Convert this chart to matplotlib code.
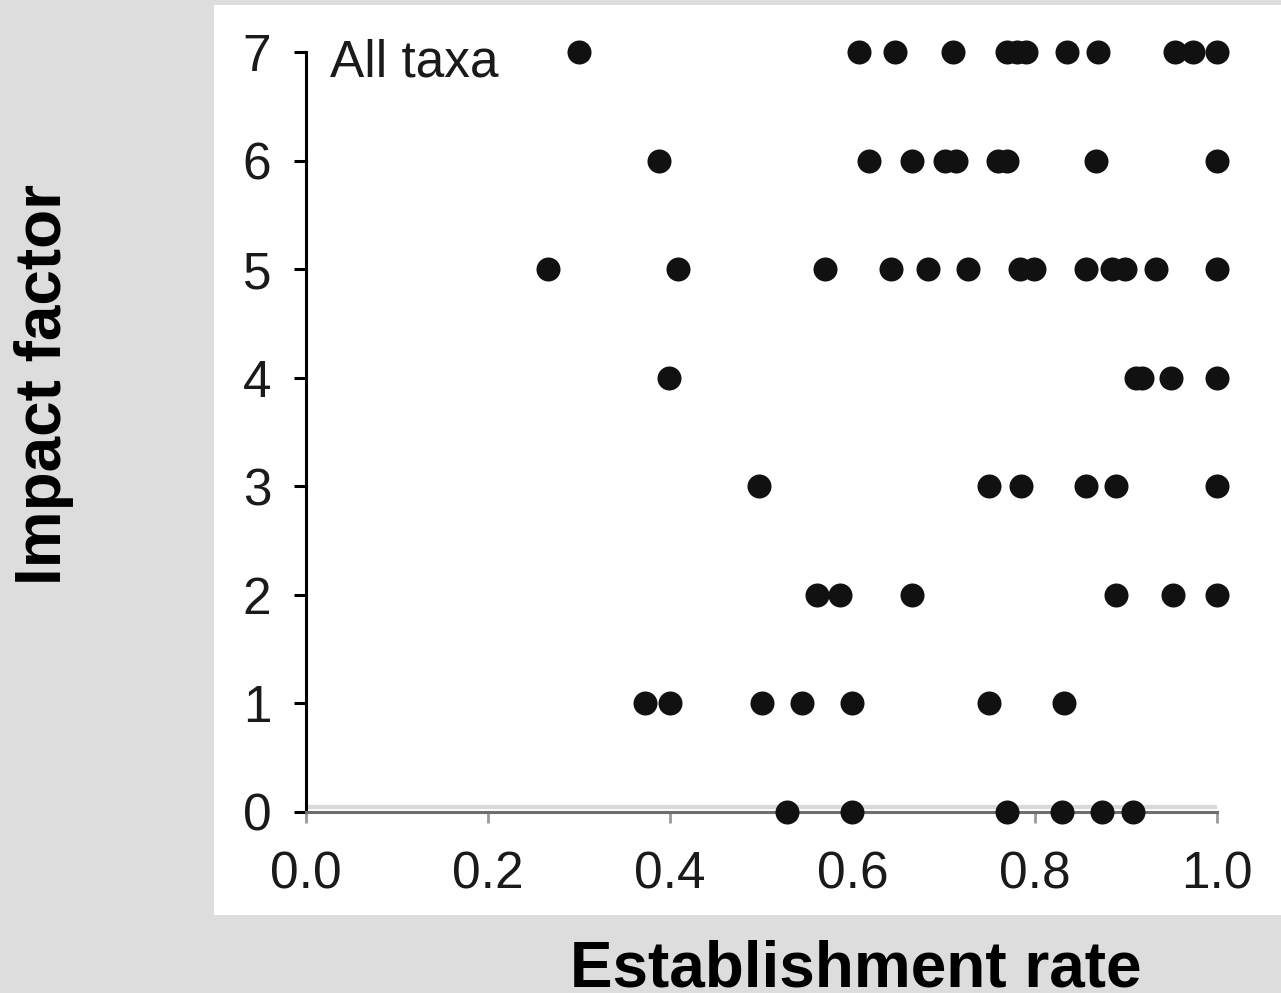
import matplotlib
matplotlib.use("Agg")
import matplotlib.pyplot as plt
from matplotlib.patches import Rectangle
from matplotlib.lines import Line2D
from matplotlib import transforms

plt.rcParams["font.family"] = ["Liberation Sans", "DejaVu Sans"]

# establishment rate of each taxon, grouped by impact factor
rates_impact7 = [0.300, 0.607, 0.647, 0.710, 0.770, 0.780, 0.790, 0.835, 0.869, 0.954, 0.974, 1.0]
rates_impact6 = [0.388, 0.618, 0.665, 0.702, 0.714, 0.760, 0.769, 0.867, 1.0]
rates_impact5 = [0.266, 0.409, 0.570, 0.642, 0.683, 0.727, 0.784, 0.799, 0.856, 0.885, 0.899, 0.933, 1.0]
rates_impact4 = [0.399, 0.911, 0.918, 0.949, 1.0]
rates_impact3 = [0.498, 0.750, 0.785, 0.856, 0.889, 1.0]
rates_impact2 = [0.561, 0.586, 0.665, 0.889, 0.952, 1.0]
rates_impact1 = [0.372, 0.400, 0.501, 0.545, 0.599, 0.750, 0.832]
rates_impact0 = [0.528, 0.599, 0.770, 0.830, 0.874, 0.908]

impact_groups = {
    7: rates_impact7, 6: rates_impact6, 5: rates_impact5, 4: rates_impact4,
    3: rates_impact3, 2: rates_impact2, 1: rates_impact1, 0: rates_impact0,
}

x_ticks = [0.0, 0.2, 0.4, 0.6, 0.8, 1.0]
x_tick_labels = ["0.0", "0.2", "0.4", "0.6", "0.8", "1.0"]
y_ticks = [0, 1, 2, 3, 4, 5, 6, 7]


def main():
    xs, ys = [], []
    for level, rates in impact_groups.items():
        xs.extend(rates)
        ys.extend([level] * len(rates))

    fig = plt.figure(figsize=(12.81, 9.93), dpi=100)
    fig.patch.set_facecolor("#dddddd")
    fig.patches.append(Rectangle((0.167, 0.0785), 0.833, 0.916, transform=fig.transFigure,
                                 facecolor="white", edgecolor="none", zorder=-1))

    ax = fig.add_axes([0.2385, 0.1825, 0.7116, 0.7648])
    ax.patch.set_visible(False)
    ax.set_xlim(0, 1)
    ax.set_ylim(0, 7)

    ax.spines["top"].set_visible(False)
    ax.spines["right"].set_visible(False)
    ax.spines["left"].set_color("black")
    ax.spines["left"].set_linewidth(2.2)
    ax.spines["bottom"].set_color("#6e6e6e")
    ax.spines["bottom"].set_linewidth(2.2)

    # faint scan band just above the x axis
    band = transforms.offset_copy(ax.transAxes, fig=fig, y=4.5, units="dots")
    ax.add_line(Line2D([0, 1], [0, 0], transform=band, color="#d9d9d9", lw=3, zorder=1))

    ax.set_yticks(y_ticks)
    ax.set_xticks(x_ticks)
    ax.set_xticklabels(x_tick_labels)
    ax.tick_params(axis="y", direction="out", length=8.6, width=2.2, color="black",
                   pad=16, labelsize=37, labelcolor="#1a1a1a")
    ax.tick_params(axis="x", direction="out", length=8, width=2, color="#999999",
                   pad=20, labelsize=37, labelcolor="#1a1a1a")
    tick_shades = ["#cccccc", "#aaaaaa", "#111111", "#888888", "#777777", "#888888"]
    for tick, shade in zip(ax.xaxis.get_major_ticks(), tick_shades):
        tick.tick1line.set_color(shade)

    ax.plot(xs, ys, "o", ms=17.3, color="#111111", mec="none", clip_on=False, zorder=5)

    ax.text(0.027, 6.775, "All taxa", fontsize=37, color="#1a1a1a", va="baseline", ha="left")

    fig.text(0.0347, 0.6128, "Impact factor", rotation=90, fontsize=46, fontweight="bold",
             ha="center", va="center")
    fig.text(0.668, 0.007, "Establishment rate", fontsize=46, fontweight="bold",
             ha="center", va="baseline")

    fig.savefig("out.png", dpi=100, facecolor=fig.get_facecolor())


if __name__ == "__main__":
    main()
